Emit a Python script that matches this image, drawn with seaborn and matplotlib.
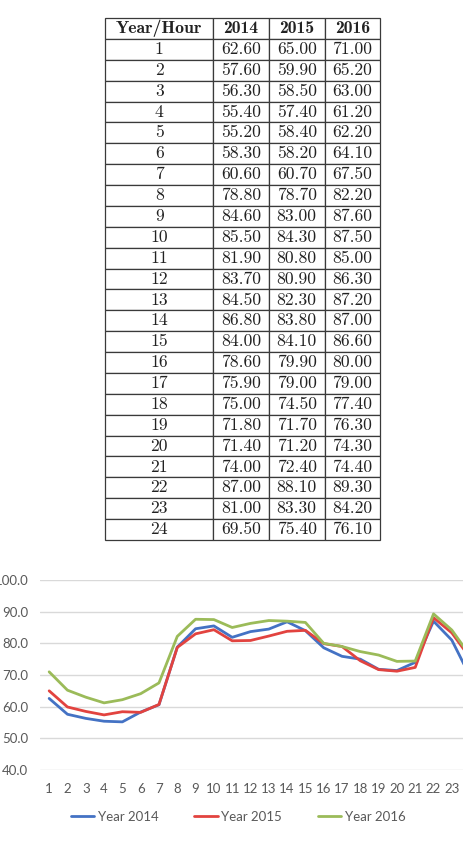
import numpy as np
import pandas as pd
import matplotlib
matplotlib.use("Agg")
import matplotlib.pyplot as plt
from matplotlib.lines import Line2D
import seaborn as sns

hours = list(range(1, 25))
years = ["2014", "2015", "2016"]
load_2014 = [62.60, 57.60, 56.30, 55.40, 55.20, 58.30, 60.60, 78.80, 84.60, 85.50, 81.90, 83.70,
             84.50, 86.80, 84.00, 78.60, 75.90, 75.00, 71.80, 71.40, 74.00, 87.00, 81.00, 69.50]
load_2015 = [65.00, 59.90, 58.50, 57.40, 58.40, 58.20, 60.70, 78.70, 83.00, 84.30, 80.80, 80.90,
             82.30, 83.80, 84.10, 79.90, 79.00, 74.50, 71.70, 71.20, 72.40, 88.10, 83.30, 75.40]
load_2016 = [71.00, 65.20, 63.00, 61.20, 62.20, 64.10, 67.50, 82.20, 87.60, 87.50, 85.00, 86.30,
             87.20, 87.00, 86.60, 80.00, 79.00, 77.40, 76.30, 74.30, 74.40, 89.30, 84.20, 76.10]
y_ticks = [40, 50, 60, 70, 80, 90, 100]
legend_labels = ["Year 2014", "Year 2015", "Year 2016"]
colors = ["#4472C4", "#E2433F", "#9BBB59"]

sns.set_theme(style="white")
plt.rcParams['font.family'] = ['Lato', 'DejaVu Sans']

W, H = 463, 847
fig = plt.figure(figsize=(W / 100, H / 100), dpi=100)

# ---------------- table ----------------
tax = fig.add_axes([105 / W, 1 - 540 / H, 275 / W, 522 / H])
tax.axis('off')
cell_text = [[str(h), f"{a:.2f}", f"{b:.2f}", f"{c:.2f}"]
             for h, a, b, c in zip(hours, load_2014, load_2015, load_2016)]
col_labels = ["Year/Hour"] + years
cw = np.array([108, 55, 56, 55], dtype=float)
tbl = tax.table(cellText=cell_text, colLabels=col_labels, cellLoc='center',
                bbox=[0, 0, 1, 1], colWidths=list(cw / cw.sum()))
tbl.auto_set_font_size(False)
for (r, c), cell in tbl.get_celld().items():
    cell.set_edgecolor('#3a3a3a')
    cell.set_linewidth(0.9)
    t = cell.get_text()
    t.set_fontfamily('cmb10' if r == 0 else 'cmr10')
    t.set_fontsize(12.7)
    t.set_color('#222222')

# ---------------- line chart ----------------
df = pd.DataFrame({
    "Hour": hours * 3,
    "Load": load_2014 + load_2015 + load_2016,
    "Year": [years[0]] * 24 + [years[1]] * 24 + [years[2]] * 24,
})
ax = fig.add_axes([40 / W, 1 - 770 / H, 423 / W, 190 / H])
sns.lineplot(data=df, x="Hour", y="Load", hue="Year", palette=colors,
             linewidth=2.0, ax=ax, legend=False)
ax.set_xlim(0.5, 23.61)
ax.set_ylim(40, 100)
ax.set_yticks(y_ticks)
ax.set_yticklabels([f"{v:.1f}" for v in y_ticks])
ax.set_xticks(hours[:23])
ax.set_xticklabels([str(h) for h in hours[:23]])
ax.set_xlabel("")
ax.set_ylabel("")
ax.grid(axis='y', color='#D9D9D9', linewidth=1.0)
ax.set_axisbelow(True)
for s in ax.spines.values():
    s.set_visible(False)
ax.tick_params(axis='both', length=0, colors='#595959', labelsize=9.5)
ax.tick_params(axis='x', pad=9.5)
ax.tick_params(axis='y', pad=8.5)

handles = [Line2D([0], [0], color=c, lw=2) for c in colors]
fig.legend(handles, legend_labels, loc='center', bbox_to_anchor=(238 / W, 1 - 817 / H),
           ncol=3, frameon=False, fontsize=9.5, handlelength=1.8, handletextpad=0.25,
           columnspacing=2.7, labelcolor='#595959')

fig.savefig("out.png", dpi=100)
